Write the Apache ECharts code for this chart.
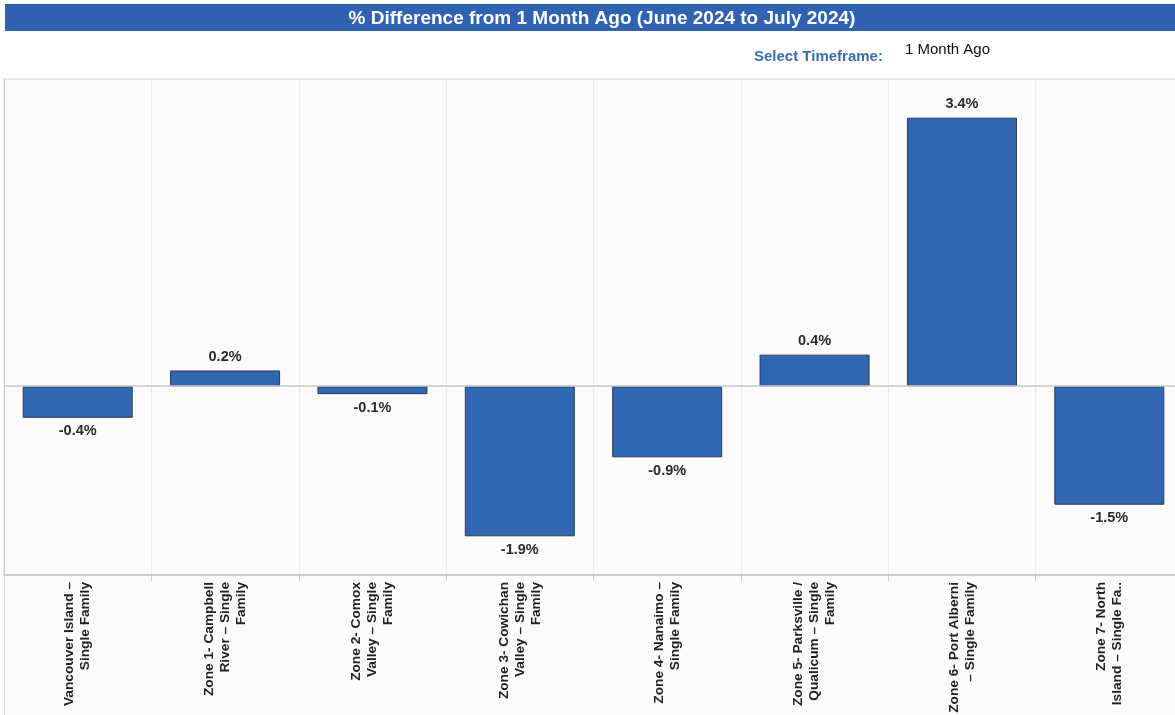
<!DOCTYPE html>
<html>
<head>
<meta charset="utf-8">
<script src="https://cdn.jsdelivr.net/npm/echarts@6/dist/echarts.min.js"></script>
<style>
  html, body { margin: 0; padding: 0; background: #ffffff; }
  #chart { width: 1175px; height: 715px; }
</style>
</head>
<body>
<div id="chart"></div>
<script>
// Regions (tick labels, wrapped as shown under each column)
const regions = [
  'Vancouver Island –\nSingle Family',
  'Zone 1- Campbell\nRiver – Single\nFamily',
  'Zone 2- Comox\nValley – Single\nFamily',
  'Zone 3- Cowichan\nValley – Single\nFamily',
  'Zone 4- Nanaimo –\nSingle Family',
  'Zone 5- Parksville /\nQualicum – Single\nFamily',
  'Zone 6- Port Alberni\n– Single Family',
  'Zone 7- North\nIsland – Single Fa..'
];

// % change in benchmark price, June 2024 -> July 2024
const pctChange = [-0.4, 0.2, -0.1, -1.9, -0.9, 0.4, 3.4, -1.5];

const titleText = '% Difference from 1 Month Ago (June 2024 to July 2024)';
const timeframeLabel = 'Select Timeframe:';
const timeframeValue = '1 Month Ago';

const chart = echarts.init(document.getElementById('chart'));

const barData = pctChange.map(v => ({
  value: v,
  label: { position: v >= 0 ? 'top' : 'bottom' }
}));

chart.setOption({
  animation: false,
  backgroundColor: '#ffffff',
  textStyle: { fontFamily: 'Liberation Sans, Arial, sans-serif' },
  title: {
    text: titleText,
    left: 597,
    top: 4,
    textAlign: 'center',
    textStyle: {
      color: '#ffffff',
      fontSize: 19,
      fontWeight: 'bold',
      fontFamily: 'Liberation Sans, Arial, sans-serif'
    }
  },
  graphic: [
    {
      type: 'rect', z: -1,
      shape: { x: 5, y: 4, width: 1175, height: 27 },
      style: { fill: '#2f63b1' }
    },
    {
      type: 'rect', z: -1,
      shape: { x: 4, y: 575, width: 1180, height: 140 },
      style: { fill: '#fbfbfb' }
    },
    {
      type: 'line', z: 5,
      shape: { x1: 4.5, y1: 79, x2: 4.5, y2: 715 },
      style: { stroke: '#cfcfcf', lineWidth: 1 }
    },
    {
      type: 'text', z: 5,
      style: {
        x: 754, y: 57, text: timeframeLabel,
        fill: '#3a6bb3', font: 'bold 15px Liberation Sans, Arial, sans-serif',
        verticalAlign: 'middle'
      }
    },
    {
      type: 'text', z: 5,
      style: {
        x: 905, y: 50, text: timeframeValue,
        fill: '#111111', font: '15px Liberation Sans, Arial, sans-serif',
        verticalAlign: 'middle'
      }
    }
  ],
  grid: {
    left: 4,
    top: 79,
    width: 1179,
    height: 496,
    outerBoundsMode: 'none',
    containLabel: false,
    show: true,
    backgroundColor: '#fbfbfb',
    borderColor: '#d4d4d4',
    borderWidth: 1
  },
  xAxis: {
    type: 'category',
    data: regions,
    axisLine: { onZero: false, lineStyle: { color: '#c4c4c4', width: 1.5 } },
    axisTick: { show: true, interval: 0, length: 6, lineStyle: { color: '#c8c8c8' } },
    splitLine: {
      show: true, interval: 0,
      lineStyle: { color: '#dcdcdc', type: 'dotted', width: 1 }
    },
    axisLabel: {
      interval: 0,
      rotate: 90,
      margin: 7,
      color: '#222222',
      fontSize: 13.7,
      fontWeight: 'bold',
      lineHeight: 16,
      fontFamily: 'Liberation Sans, Arial, sans-serif'
    }
  },
  yAxis: {
    type: 'value',
    min: -2.39,
    max: 3.89,
    axisLine: { show: false },
    axisTick: { show: false },
    axisLabel: { show: false },
    splitLine: { show: false }
  },
  series: [
    {
      // zero reference line, drawn beneath the bars
      type: 'line',
      data: [],
      z: 1,
      silent: true,
      markLine: {
        silent: true,
        symbol: 'none',
        label: { show: false },
        lineStyle: { color: '#c8c8c8', width: 1.5, type: 'solid' },
        data: [{ yAxis: 0 }]
      }
    },
    {
      type: 'bar',
      z: 3,
      data: barData,
      barWidth: 110,
      itemStyle: {
        color: '#3166b1',
        borderColor: '#2b3c58',
        borderWidth: 1
      },
      label: {
        show: true,
        distance: 6,
        color: '#2a2a2a',
        fontSize: 14.5,
        fontWeight: 'bold',
        fontFamily: 'Liberation Sans, Arial, sans-serif',
        formatter: p => p.value.toFixed(1) + '%'
      }
    }
  ]
});
</script>
</body>
</html>
